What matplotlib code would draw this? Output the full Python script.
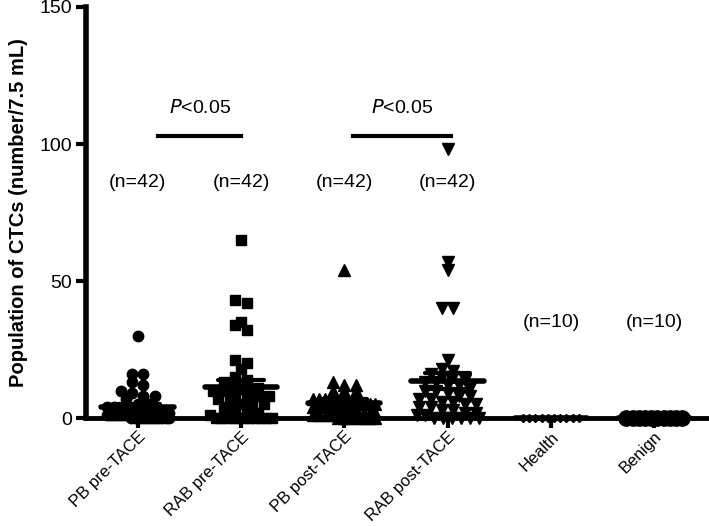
import matplotlib.pyplot as plt
import numpy as np

plt.rcParams['font.family'] = ['Liberation Sans', 'DejaVu Sans']

groups = ["PB pre-TACE", "RAB pre-TACE", "PB post-TACE", "RAB post-TACE", "Health", "Benign"]
n_labels = ["(n=42)", "(n=42)", "(n=42)", "(n=42)", "(n=10)", "(n=10)"]

pb_pre = [30, 16, 16, 13, 12, 10, 9, 8, 7, 8,
          5, 5, 4, 4, 3, 3, 3, 2, 2, 2, 2, 1, 1, 1, 1, 1, 1, 1, 1,
          0, 0, 0, 0, 0, 0, 0, 0, 0, 0, 0, 0, 0]
rab_pre = [65, 43, 42, 35, 34, 32, 21, 20, 18, 15, 14, 13,
           12, 12, 11, 10, 10, 9, 9, 8, 8, 7, 6, 5, 5, 5, 4, 4, 3, 2, 1,
           0, 0, 0, 0, 0, 0, 0, 0, 0, 0, 0]
pb_post = [54, 13, 12, 12, 10, 10, 10, 7, 7,
           7, 6, 6, 6, 6, 5, 5, 5, 5, 5, 4, 4, 4, 4, 3, 3, 3, 3,
           2, 2, 2, 2, 1, 1, 1, 1,
           0, 0, 0, 0, 0, 0, 0]
rab_post = [98, 57, 54, 40, 40,
            21, 18, 17, 16, 15, 15, 14, 13, 13, 12, 12, 11, 10, 10,
            9, 8, 8, 7, 7, 6, 6, 5, 5, 4, 4, 3, 3, 2, 2, 1, 1,
            0, 0, 0, 0, 0, 0]
health = [0] * 10
benign = [0] * 10

data = [pb_pre, rab_pre, pb_post, rab_post, health, benign]
markers = ["o", "s", "^", "v", "D", "o"]
msizes = [7.5, 7.5, 8, 8, 4.5, 11]

p_brackets = [(1.2, 2.0, 103), (3.08, 4.03, 103)]

fig = plt.figure(figsize=(7.09, 5.26), dpi=100)
ax = fig.add_axes([0.1213, 0.2053, 0.8787, 0.7814])


def spread(vals, dx, binw):
    # place points with similar values side by side
    vals = np.asarray(vals, dtype=float)
    off = np.zeros(len(vals))
    bins = np.round(vals / binw).astype(int)
    for b in np.unique(bins):
        idx = np.where(bins == b)[0]
        k = len(idx)
        d = min(dx, 0.6 / max(k - 1, 1))
        off[idx] = (np.arange(k) - (k - 1) / 2) * d
    return off


for i, (vals, m, ms) in enumerate(zip(data, markers, msizes)):
    x0 = i + 1
    if i >= 4:
        off = np.linspace(-0.27, 0.27, len(vals))
    else:
        off = spread(vals, 0.11, 3.0)
    ax.plot(x0 + off, vals, linestyle="none", marker=m, markersize=ms,
            color="black", clip_on=False, zorder=3)
    mean = np.mean(vals)
    sem = np.std(vals, ddof=1) / np.sqrt(len(vals))
    ax.plot([x0 - 0.35, x0 + 0.35], [mean, mean], color="black", lw=4,
            solid_capstyle="round", clip_on=False, zorder=4)
    if sem > 0:
        ax.plot([x0, x0], [mean - sem, mean + sem], color="black", lw=2.5, zorder=4)
        for yy in (mean - sem, mean + sem):
            ax.plot([x0 - 0.22, x0 + 0.22], [yy, yy], color="black", lw=3,
                    solid_capstyle="round", zorder=4)
    ny = 86 if i < 4 else 35
    ax.text(x0, ny, n_labels[i], ha="center", va="center", fontsize=14)

for xa, xb, yb in p_brackets:
    ax.plot([xa, xb], [yb, yb], color="black", lw=3)
    ax.text((xa + xb) / 2, yb + 10, "$\\it{P}$<0.05", ha="center", va="center",
            fontsize=14)

ax.set_xlim(0.5, 6.53)
ax.set_ylim(0, 150)
ax.set_yticks([0, 50, 100, 150])
ax.set_xticks(range(1, 7))
ax.set_xticklabels(groups, rotation=45, ha="right", rotation_mode="anchor",
                   fontsize=12)
ax.tick_params(axis="y", labelsize=14, length=7, width=3, pad=3)
ax.tick_params(axis="x", length=7, width=3, pad=1)
for s in ("top", "right"):
    ax.spines[s].set_visible(False)
ax.spines["left"].set_linewidth(4)
ax.spines["bottom"].set_linewidth(3.5)
ax.set_ylabel("Population of CTCs (number/7.5 mL)", fontsize=14.5,
              fontweight="bold", labelpad=8)

fig.savefig("out.png", dpi=100)
